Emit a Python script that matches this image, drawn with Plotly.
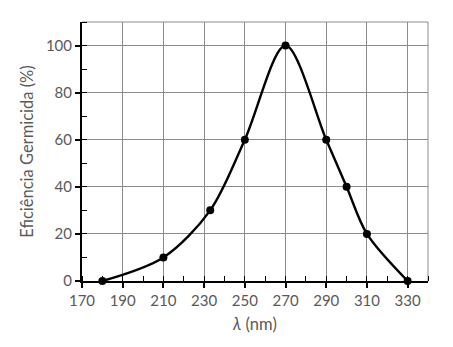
import plotly.graph_objects as go

# Germicidal efficiency vs. wavelength
wavelength_nm = [180, 210, 233, 250, 270, 290, 300, 310, 330]
efficiency_pct = [0, 10, 30, 60, 100, 60, 40, 20, 0]

x_ticks = [170, 190, 210, 230, 250, 270, 290, 310, 330]
y_ticks = [0, 20, 40, 60, 80, 100]

grid_color = "#8c8c8c"
text_color = "#595959"
font_family = "Lato, Open Sans, sans-serif"

fig = go.Figure()
fig.add_trace(go.Scatter(
    x=wavelength_nm,
    y=efficiency_pct,
    mode="lines+markers",
    line=dict(color="black", width=2.4, shape="spline", smoothing=0.9),
    marker=dict(color="black", size=8),
    showlegend=False,
    cliponaxis=False,
))

fig.update_layout(
    width=453,
    height=347,
    margin=dict(l=82, r=25, t=22, b=66),
    paper_bgcolor="white",
    plot_bgcolor="white",
    font=dict(family=font_family, color=text_color, size=15),
    xaxis=dict(
        range=[170, 340],
        tickvals=x_ticks,
        ticks="outside",
        ticklen=5,
        tickwidth=1.5,
        tickcolor="black",
        showline=True,
        linecolor="black",
        linewidth=2,
        showgrid=True,
        gridcolor=grid_color,
        gridwidth=1,
        zeroline=False,
        minor=dict(dtick=10, ticks="inside", ticklen=5, tickcolor="black", tickwidth=1.2, showgrid=False),
        tickfont=dict(size=15, color=text_color),
        title=dict(text="<i>λ</i> (nm)", font=dict(size=16.5, color=text_color), standoff=10),
    ),
    yaxis=dict(
        range=[0, 110],
        tickvals=y_ticks,
        ticks="outside",
        ticklen=5,
        tickwidth=1.5,
        tickcolor="black",
        showline=True,
        linecolor="black",
        linewidth=2,
        showgrid=True,
        gridcolor=grid_color,
        gridwidth=1,
        zeroline=False,
        minor=dict(dtick=10, ticks="inside", ticklen=5, tickcolor="black", tickwidth=1.2, showgrid=False),
        tickfont=dict(size=15, color=text_color),
        title=dict(text="Eficiência Germicida (%)", font=dict(size=16.5, color=text_color), standoff=8),
    ),
    shapes=[
        dict(type="line", xref="paper", yref="paper", x0=0, x1=1, y0=1, y1=1,
             line=dict(color=grid_color, width=1), layer="below"),
        dict(type="line", xref="paper", yref="paper", x0=1, x1=1, y0=0, y1=1,
             line=dict(color=grid_color, width=1), layer="below"),
    ],
)

fig.write_html("out.html")
